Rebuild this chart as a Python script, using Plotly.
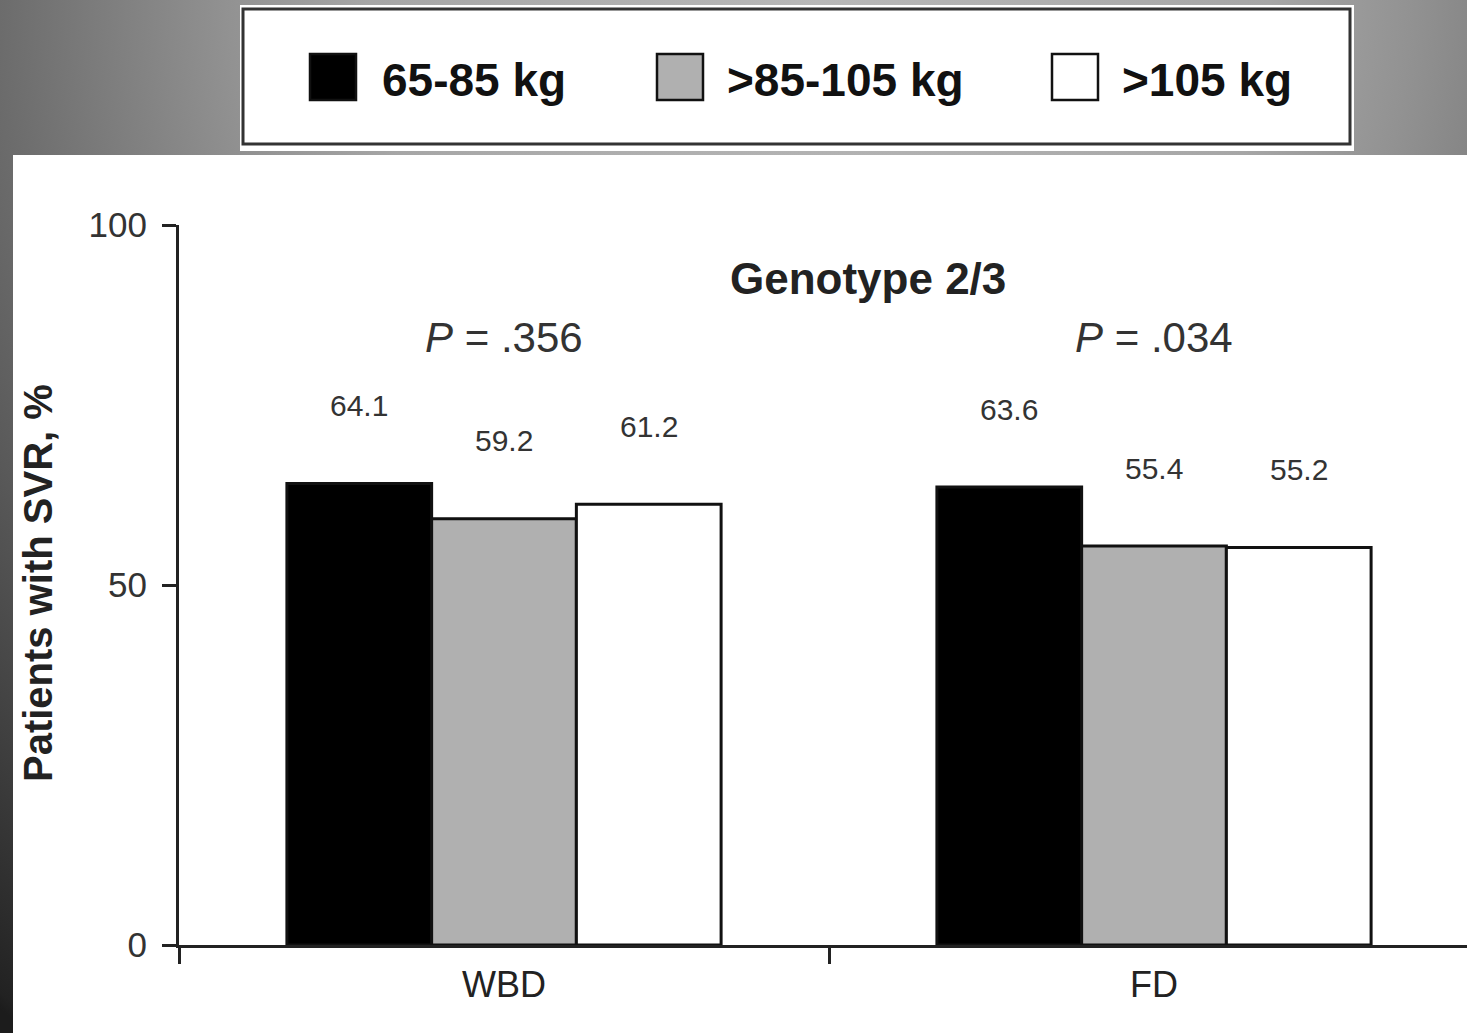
import base64
import plotly.graph_objects as go

# ---------------- data ----------------
categories = ["WBD", "FD"]
series_names = ["65-85 kg", ">85-105 kg", ">105 kg"]
svr_65_85 = [64.1, 63.6]
svr_85_105 = [59.2, 55.4]
svr_105_plus = [61.2, 55.2]
p_values = ["<i>P</i> = .356", "<i>P</i> = .034"]
y_ticks = [0, 50, 100]
panel_title = "Genotype 2/3"
y_title = "Patients with SVR, %"

series_values = [svr_65_85, svr_85_105, svr_105_plus]
bar_colors = ["#000000", "#b0b0b0", "#ffffff"]

# ---------------- geometry ----------------
W, H = 1467, 1033
ML, MR, MT, MB = 179, 0, 225, 88
PW, PH = W - ML - MR, H - MT - MB
BARGAP = 0.332

def px(xp):
    return (xp - ML) / PW

def py(yp):
    return (H - MB - yp) / PH

FONT = "Liberation Sans, Arial, sans-serif"

fig = go.Figure()
for name, vals, col in zip(series_names, series_values, bar_colors):
    fig.add_trace(go.Bar(
        x=categories, y=vals, name=name,
        marker=dict(color=col, line=dict(color="#111111", width=3)),
        showlegend=False, hoverinfo="x+y+name",
    ))

# background gradient (svg data uri)
svg = (
    '<svg xmlns="http://www.w3.org/2000/svg" width="1467" height="1033">'
    '<defs><radialGradient id="g" gradientUnits="userSpaceOnUse" cx="820" cy="0" r="1300">'
    '<stop offset="0" stop-color="#b8b8b8"/>'
    '<stop offset="0.346" stop-color="#a6a6a6"/>'
    '<stop offset="0.454" stop-color="#929292"/>'
    '<stop offset="0.631" stop-color="#6c6c6c"/>'
    '<stop offset="0.99" stop-color="#222222"/>'
    '<stop offset="1" stop-color="#1c1c1c"/>'
    '</radialGradient></defs>'
    '<rect width="1467" height="1033" fill="url(#g)"/></svg>'
)
uri = "data:image/svg+xml;base64," + base64.b64encode(svg.encode()).decode()

shapes = []
annotations = []

# white chart panel
shapes.append(dict(type="rect", xref="paper", yref="paper", layer="below",
                   x0=px(13), x1=px(1467), y0=py(1033), y1=py(155),
                   fillcolor="white", line=dict(width=0)))
# legend box
shapes.append(dict(type="rect", xref="paper", yref="paper", layer="below",
                   x0=px(240), x1=px(1354), y0=py(151), y1=py(5),
                   fillcolor="white", line=dict(width=0)))
shapes.append(dict(type="rect", xref="paper", yref="paper", layer="above",
                   x0=px(243), x1=px(1350), y0=py(144), y1=py(9),
                   fillcolor="rgba(0,0,0,0)", line=dict(color="#333333", width=3)))

# legend swatches + labels
swatch_left = [310, 657, 1052]
text_left = [380, 725, 1120]
for name, col, sx, tx in zip(series_names, bar_colors, swatch_left, text_left):
    shapes.append(dict(type="rect", xref="paper", yref="paper", layer="above",
                       x0=px(sx), x1=px(sx + 46), y0=py(100), y1=py(54),
                       fillcolor=col, line=dict(color="#111111", width=2.5)))
    annotations.append(dict(text=f"<b>{name}</b>", xref="paper", yref="paper",
                            x=px(tx), y=py(80), xanchor="left", yanchor="middle",
                            showarrow=False,
                            font=dict(family=FONT, size=46, color="#111111")))

# value labels above bars
bw = (1 - BARGAP) / 3
for i, vals in enumerate(series_values):
    for ci, v in enumerate(vals):
        annotations.append(dict(text=f"{v:.1f}", xref="x", yref="y",
                                x=ci + (i - 1) * bw, y=v, yshift=78,
                                xanchor="center", yanchor="middle", showarrow=False,
                                font=dict(family=FONT, size=30, color="#333333")))

# P values
for ci, ptxt in enumerate(p_values):
    annotations.append(dict(text=ptxt, xref="x", yref="paper", x=ci, y=py(337),
                            xanchor="center", yanchor="middle", showarrow=False,
                            font=dict(family=FONT, size=42, color="#333333")))

# panel title
annotations.append(dict(text=f"<b>{panel_title}</b>", xref="paper", yref="paper",
                        x=px(868), y=py(278), xanchor="center", yanchor="middle",
                        showarrow=False, font=dict(family=FONT, size=44, color="#222222")))

# y axis title
annotations.append(dict(text=f"<b>{y_title}</b>", xref="paper", yref="paper",
                        x=px(38), y=py(583), textangle=-90, xanchor="center",
                        yanchor="middle", showarrow=False,
                        font=dict(family=FONT, size=40, color="#222222")))

fig.update_layout(
    width=W, height=H,
    margin=dict(l=ML, r=MR, t=MT, b=MB, pad=0),
    paper_bgcolor="#555555",
    plot_bgcolor="rgba(0,0,0,0)",
    barmode="group", bargap=BARGAP, bargroupgap=0,
    shapes=shapes, annotations=annotations,
    images=[dict(source=uri, xref="paper", yref="paper", x=px(0), y=py(0),
                 sizex=W / PW, sizey=H / PH, xanchor="left", yanchor="top",
                 sizing="stretch", layer="below")],
    xaxis=dict(type="category", range=[-0.5, -0.5 + PW / 650.0],
               tickson="boundaries", ticks="outside", ticklen=16, tickwidth=3,
               tickcolor="#222222", showline=True, linecolor="#222222",
               linewidth=3, showgrid=False, zeroline=False, ticklabelstandoff=6,
               tickfont=dict(family=FONT, size=36, color="#222222")),
    yaxis=dict(range=[0, 100], tickvals=y_ticks, ticks="outside", ticklen=14,
               tickwidth=3, tickcolor="#222222", showline=True,
               linecolor="#222222", linewidth=3, showgrid=False, zeroline=False,
               ticklabelstandoff=8,
               tickfont=dict(family=FONT, size=35, color="#333333")),
    font=dict(family=FONT),
)

fig.write_html("out.html",
               config={"displayModeBar": False},
               post_script="document.body.style.margin='0';document.body.style.padding='0';")
